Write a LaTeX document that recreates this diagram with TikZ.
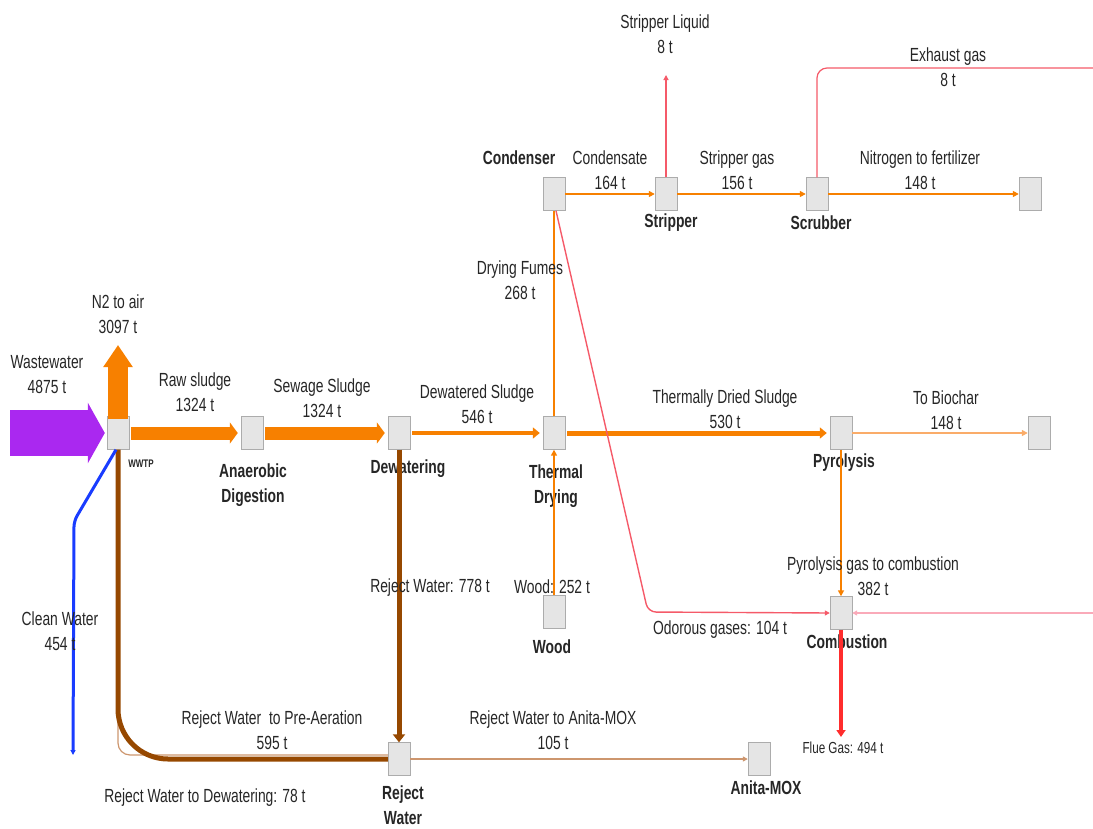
\documentclass[tikz,border=0pt]{standalone}
\usepackage{fontspec}
\setmainfont{Liberation Sans}[FakeStretch=0.73]
\usetikzlibrary{positioning, arrows.meta}
\definecolor{or1}{RGB}{247,128,0}
\definecolor{or2}{RGB}{250,172,105}
\definecolor{br1}{RGB}{150,72,0}
\definecolor{br2}{RGB}{205,150,110}
\definecolor{rd1}{RGB}{255,45,45}
\definecolor{rd2}{RGB}{245,90,105}
\definecolor{pk1}{RGB}{250,170,185}
\definecolor{bl1}{RGB}{25,60,255}
\definecolor{pu1}{RGB}{170,40,240}
\tikzset{
  rect1/.style = {
    shape = rectangle,
    draw = gray!65,
    fill = gray!20,
    minimum width = 22pt,
    minimum height = 33pt,
    inner sep = 0pt,
  }
}
\tikzset{
  text1/.style = {
    align = center,
    inner sep = 0pt,
    text = black!85,
    font = \fontsize{19}{25}\selectfont,
  },
  text2/.style = {
    text1,
    font = \fontsize{19}{25}\selectfont\bfseries,
  }
}
\tikzset{
  arrow1/.style = {
    draw = or1, line width = 2pt, -{Triangle[length = 6pt, width = 6pt]},
  },
  arrow2/.style = {
    draw = or1, line width = 13pt, -{Triangle[length = 8pt, width = 21pt]},
    shorten > = 3pt, shorten < = 2pt,
  },
  arrow3/.style = {
    draw = or1, line width = 4.5pt, -{Triangle[length = 7pt, width = 11pt]},
    shorten > = 3pt, shorten < = 2pt,
  },
  arrow4/.style = {
    draw = br1, line width = 5pt, -{Triangle[length = 8pt, width = 12pt]},
  },
  arrow5/.style = {
    line width = 1.4pt, -{Triangle[length = 5pt, width = 5pt]},
  }
}

\begin{document}
\begin{tikzpicture}[x = 1pt, y = -1pt]
        \useasboundingbox (0,0) rectangle (1093,828);
        % process boxes
        \node[rect1](1) at (118,433){};
        \node[rect1](2) at (252,433){};
        \node[rect1](3) at (399,433){};
        \node[rect1](4) at (554,433){};
        \node[rect1](5) at (841,433){};
        \node[rect1](6) at (1039,433){};
        \node[rect1](7) at (841,613){};
        \node[rect1](8) at (554,612){};
        \node[rect1](9) at (554,194){};
        \node[rect1](10) at (666,194){};
        \node[rect1](11) at (817,194){};
        \node[rect1](12) at (1030,194){};
        \node[rect1](13) at (399,759){};
        \node[rect1](14) at (759,759){};
        % free ends
        \coordinate (ww) at (10,433);
        \coordinate (n2) at (118,345);
        \coordinate (sl) at (666,75);
        \coordinate (ex) at (1093,68);
        \coordinate (od) at (648,612);
        \coordinate (pk) at (1093,613);
        \coordinate (fg) at (841,737);
        \coordinate (cw1) at (74,521);
        \coordinate (cw) at (73,755);
        % box names
        \node[text2](b1) at (141,464){\fontsize{11}{13}\selectfont WWTP};
        \node[text2](b2) at (253,485){Anaerobic\\Digestion};
        \node[text2](b3) at (408,469){Dewatering};
        \node[text2](b4) at (556,486){Thermal\\Drying};
        \node[text2](b5) at (844,463){Pyrolysis};
        \node[text2](b7) at (847,642){Combustion};
        \node[text2](b8) at (552,647){Wood};
        \node[text2](b9) at (519,158){Condenser};
        \node[text2](b10) at (671,223){Stripper};
        \node[text2](b11) at (821,223){Scrubber};
        \node[text2](b13) at (403,805){Reject\\Water};
        \node[text2](b14) at (766,788){Anita-MOX};
        % flows
        \draw[draw = pu1, line width = 46pt, -{Triangle[length = 17pt, width = 60pt]}, shorten > = 2pt](ww) -- (1);
        \draw[draw = or1, line width = 20pt, -{Triangle[length = 22pt, width = 28pt]}, shorten < = -3pt](1) -- (n2);
        \draw[arrow2](1) -- (2);
        \draw[arrow2](2) -- (3);
        \draw[arrow3](3) -- (4);
        \draw[arrow3, line width = 5pt](4) -- (5);
        \draw[arrow1, draw = or2](5) -- (6);
        \draw[arrow1, -](4) -- (9);
        \draw[arrow1](9) -- (10);
        \draw[arrow1](10) -- (11);
        \draw[arrow1](11) -- (12);
        \draw[arrow5, draw = rd2, line width = 1.2pt](10) -- (sl);
        \draw[draw = rd2, line width = 1.2pt, rounded corners = 10pt](11.north) |- (ex);
        \draw[arrow5, draw = rd2, rounded corners = 8pt]([xshift = 2pt]9.south) -- (od) -- (7.west);
        \draw[arrow5, draw = pk1](pk) -- (7.east);
        \draw[arrow1](5) -- (7);
        \draw[draw = rd1, line width = 4pt, -{Triangle[length = 7pt, width = 9pt]}](7) -- (fg);
        \draw[arrow1](8) -- (4);
        \draw[arrow4](3) -- (13);
        \draw[draw = br2, line width = 1.2pt, rounded corners = 12pt]([yshift = 4pt]13.west) -| (1.south);
        \draw[draw = br1, line width = 5pt, rounded corners = 50pt](13.west) -| (1.south);
        \draw[arrow5, draw = br2](13) -- (14);
        \draw[arrow5, draw = bl1, line width = 3pt, rounded corners = 6pt]([xshift = -2pt]1.south) -- (cw1) -- (cw);
        % flow labels
        \node[text1](t1) at (47,375){Wastewater\\4875 t};
        \node[text1](t2) at (118,314){N2 to air\\3097 t};
        \node[text1](t3) at (195,392){Raw sludge\\1324 t};
        \node[text1](t4) at (322,398){Sewage Sludge\\1324 t};
        \node[text1](t5) at (477,404){Dewatered Sludge\\546 t};
        \node[text1](t6) at (725,409){Thermally Dried Sludge\\530 t};
        \node[text1](t7) at (946,410){To Biochar\\148 t};
        \node[text1](t8) at (520,280){Drying Fumes\\268 t};
        \node[text1](t9) at (610,170){Condensate\\164 t};
        \node[text1](t10) at (737,170){Stripper gas\\156 t};
        \node[text1](t11) at (920,170){Nitrogen to fertilizer\\148 t};
        \node[text1](t12) at (665,34){Stripper Liquid\\8 t};
        \node[text1](t13) at (948,67){Exhaust gas\\8 t};
        \node[text1](t14) at (873,576){Pyrolysis gas to combustion\\382 t};
        \node[text1](t15) at (720,630){Odorous gases: 104 t};
        \node[text1, font = \fontsize{16}{20}\selectfont](t16) at (843,748){Flue Gas: 494 t};
        \node[text1](t17) at (552,587){Wood: 252 t};
        \node[text1](t18) at (430,588){Reject Water: 778 t};
        \node[text1](t19) at (60,631){Clean Water\\454 t};
        \node[text1](t20) at (272,730){Reject Water\ \ to Pre-Aeration\\595 t};
        \node[text1](t21) at (205,798){Reject Water to Dewatering: 78 t};
        \node[text1](t22) at (553,730){Reject Water to Anita-MOX\\105 t};
    \end{tikzpicture}
\end{document}
